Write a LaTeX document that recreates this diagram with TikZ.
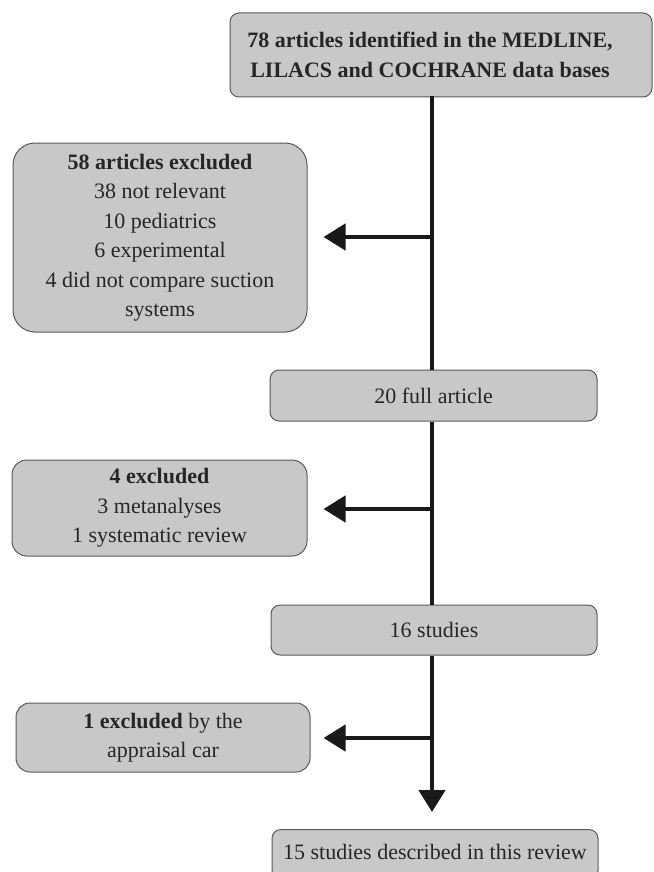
\documentclass[tikz,border=0pt]{standalone}
\usepackage{fontspec}
\setmainfont{Liberation Serif}
\usetikzlibrary{arrows.meta}
\definecolor{boxfill}{RGB}{200,200,200}
\definecolor{boxline}{RGB}{90,90,90}
\definecolor{linek}{RGB}{25,25,25}
\tikzset{
  flowbox/.style={draw=boxline, line width=1pt, fill=boxfill, align=center,
    inner sep=0pt, font=\fontsize{22}{29.5}\selectfont, text=black!85},
  flowline/.style={draw=linek, line width=4.5pt},
  flowarrow/.style={draw=linek, line width=4.5pt, -{Triangle[length=22pt,width=26pt]}},
}
\begin{document}
\begin{tikzpicture}[x=1pt,y=1pt]
\useasboundingbox (0,0) rectangle (653,-872);
% boxes
\node[flowbox, rounded corners=9pt, minimum width=422pt, minimum height=84pt] (top) at (441,-55)
  {\textbf{78 articles identified in the MEDLINE,}\hspace*{22pt}\\\textbf{LILACS and COCHRANE data bases}\hspace*{22pt}};
\node[flowbox, rounded corners=22pt, minimum width=294pt, minimum height=189pt] (ex58) at (160,-237.5)
  {\textbf{58 articles excluded}\\38 not relevant\\10 pediatrics\\6 experimental\\4 did not compare suction\\systems};
\node[flowbox, rounded corners=9pt, minimum width=327pt, minimum height=51pt] (n20) at (433.5,-395.5)
  {20 full article};
\node[flowbox, rounded corners=15pt, minimum width=295pt, minimum height=96pt] (ex4) at (159.5,-508)
  {\textbf{4 excluded}\\3 metanalyses\\1 systematic review};
\node[flowbox, rounded corners=9pt, minimum width=326pt, minimum height=50pt] (n16) at (434,-630)
  {16 studies};
\node[flowbox, rounded corners=14pt, minimum width=294pt, minimum height=69pt] (ex1) at (163,-737.5)
  {\textbf{1 excluded} by the\\appraisal car};
\node[flowbox, rounded corners=9pt, minimum width=326pt, minimum height=50pt, anchor=north] (n15) at (435,-829)
  {\raisebox{6pt}{15 studies described in this review}};
% line junctions
\coordinate (t0) at (432,-96);
\coordinate (j1) at (432,-237);
\coordinate (j2) at (432,-509);
\coordinate (j3) at (432,-738);
% connectors
\draw[flowline] (t0) -- (n20.north -| t0);
\draw[flowarrow, shorten >=16pt] (j1) -- (ex58.east |- j1);
\draw[flowline] (n20.south -| t0) -- (n16.north -| t0);
\draw[flowarrow, shorten >=16pt] (j2) -- (ex4.east |- j2);
\draw[flowarrow, shorten >=17pt] (n16.south -| t0) -- (n15.north -| t0);
\draw[flowarrow, shorten >=13pt] (j3) -- (ex1.east |- j3);
\end{tikzpicture}
\end{document}
